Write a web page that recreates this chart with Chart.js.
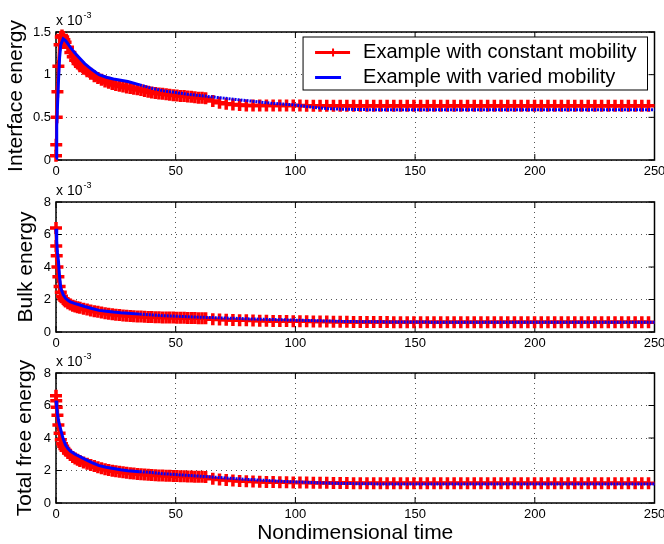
<!DOCTYPE html>
<html lang="en">
<head>
<meta charset="UTF-8">
<title>Free energy vs nondimensional time</title>
<script src="https://cdn.jsdelivr.net/npm/chart.js"></script>
<style>
  body { margin: 0; background: #fff; }
  .panel { position: absolute; left: 0; width: 664px; }
</style>
</head>
<body>
<div class="panel" style="top:0;height:180px"><canvas id="interfaceChart" width="664" height="180"></canvas></div>
<div class="panel" style="top:180px;height:172px"><canvas id="bulkChart" width="664" height="172"></canvas></div>
<div class="panel" style="top:352px;height:192px"><canvas id="totalChart" width="664" height="192"></canvas></div>

<script>
// labels
const seriesLabels = ["Example with constant mobility", "Example with varied mobility"];
const yTitles = ["Interface energy", "Bulk energy", "Total free energy"];
const xTitle = "Nondimensional time";
const scaleBase = "x 10";
const scaleExp = "-3";

// tick labels
const xTicks = [0, 50, 100, 150, 200, 250];
const interfaceTicks = [0, 0.5, 1, 1.5];
const bulkTicks = [0, 2, 4, 6, 8];
const totalTicks = [0, 2, 4, 6, 8];

// time samples, constant mobility run (dense up to ~63, then sparse)
const redTime = [
  0, 0.1, 0.3, 0.6, 1, 1.5, 2, 2.5, 3, 3.5, 4, 5, 6, 7, 8, 9, 10,
  11.5, 13, 14.5, 16, 17.5, 19, 20.5, 22, 23.5, 25, 26.5, 28, 29.5, 31, 32.5, 34, 35.5,
  37, 38.5, 40, 41.5, 43, 44.5, 46, 47.5, 49, 50.5, 52, 53.5, 55, 56.5, 58, 59.5, 61, 62.5,
  65.5, 68.3, 71.1, 73.9, 76.7, 79.5, 82.3, 85.1, 87.9, 90.7,
  93.5, 96.3, 99.1, 101.9, 104.7, 107.5, 110.3, 113.1, 115.9, 118.7,
  121.5, 124.3, 127.1, 129.9, 132.7, 135.5, 138.3, 141.1, 143.9, 146.7,
  149.5, 152.3, 155.1, 157.9, 160.7, 163.5, 166.3, 169.1, 171.9, 174.7,
  177.5, 180.3, 183.1, 185.9, 188.7, 191.5, 194.3, 197.1, 199.9, 202.7,
  205.5, 208.3, 211.1, 213.9, 216.7, 219.5, 222.3, 225.1, 227.9, 230.7,
  233.5, 236.3, 239.1, 241.9, 244.7, 247.5
];

// time samples, varied mobility run
const blueTime = [
  0, 0.3, 0.6, 1, 1.5, 2, 3, 4, 5, 6, 8, 10, 12, 15, 18, 21, 24, 27, 30, 35,
  40, 45, 50, 55, 60, 65, 70, 75, 80, 85, 90, 95, 100, 105, 110, 115, 120,
  130, 140, 150, 175, 200, 225, 250
];

// values in units of 1e-3
const interfaceRed = [
  0.05, 0.18, 0.5, 0.8, 1.1, 1.35, 1.44, 1.46, 1.44, 1.41, 1.38, 1.32, 1.26, 1.21, 1.17, 1.13, 1.10,
  1.07, 1.04, 1.01, 0.98, 0.96, 0.94, 0.92, 0.905, 0.89, 0.88, 0.87, 0.86, 0.85, 0.845, 0.835, 0.83, 0.82,
  0.81, 0.80, 0.79, 0.785, 0.78, 0.775, 0.77, 0.765, 0.76, 0.755, 0.75, 0.75, 0.745, 0.74, 0.735, 0.73, 0.73, 0.725,
  0.69, 0.67, 0.66, 0.65, 0.645, 0.64, 0.64, 0.64, 0.64, 0.64,
  0.64, 0.64, 0.64, 0.64, 0.635, 0.635, 0.635, 0.635, 0.635, 0.635,
  0.635, 0.635, 0.635, 0.635, 0.635, 0.635, 0.635, 0.635, 0.635, 0.635,
  0.635, 0.635, 0.635, 0.635, 0.635, 0.635, 0.635, 0.635, 0.635, 0.635,
  0.635, 0.635, 0.635, 0.635, 0.635, 0.635, 0.635, 0.635, 0.635, 0.635,
  0.635, 0.635, 0.635, 0.635, 0.635, 0.635, 0.635, 0.635, 0.635, 0.635,
  0.635, 0.635, 0.635, 0.635, 0.635, 0.635
];
const interfaceBlue = [
  0.02, 0.4, 0.62, 0.9, 1.2, 1.35, 1.42, 1.40, 1.36, 1.32, 1.25, 1.19, 1.13, 1.06, 1.0, 0.97, 0.95, 0.935, 0.92, 0.88,
  0.84, 0.81, 0.79, 0.77, 0.755, 0.74, 0.725, 0.71, 0.695, 0.68, 0.665, 0.655, 0.645, 0.625, 0.61, 0.6, 0.595,
  0.59, 0.59, 0.59, 0.59, 0.59, 0.59, 0.59
];

const bulkRed = [
  6.4, 5.3, 4.7, 4.0, 3.4, 2.8, 2.45, 2.2, 2.05, 1.95, 1.87, 1.77, 1.69, 1.62, 1.57, 1.53, 1.49,
  1.43, 1.38, 1.33, 1.28, 1.24, 1.2, 1.16, 1.12, 1.09, 1.06, 1.04, 1.02, 1.0, 0.98, 0.97, 0.96, 0.95,
  0.94, 0.93, 0.92, 0.915, 0.91, 0.9, 0.895, 0.89, 0.885, 0.88, 0.875, 0.87, 0.865, 0.86, 0.855, 0.85, 0.845, 0.84,
  0.79, 0.77, 0.75, 0.74, 0.73, 0.72, 0.71, 0.7, 0.69, 0.68,
  0.675, 0.67, 0.665, 0.66, 0.655, 0.65, 0.645, 0.64, 0.635, 0.63,
  0.625, 0.62, 0.615, 0.615, 0.61, 0.61, 0.61, 0.605, 0.605, 0.6,
  0.6, 0.6, 0.6, 0.6, 0.6, 0.6, 0.6, 0.6, 0.6, 0.6,
  0.6, 0.6, 0.6, 0.6, 0.6, 0.6, 0.6, 0.6, 0.6, 0.6,
  0.6, 0.6, 0.6, 0.6, 0.6, 0.6, 0.6, 0.6, 0.6, 0.6,
  0.6, 0.6, 0.6, 0.6, 0.6, 0.6
];
const bulkBlue = [
  6.35, 5.6, 4.9, 4.4, 3.4, 2.7, 2.3, 2.07, 1.95, 1.85, 1.75, 1.66, 1.57, 1.45, 1.33, 1.28, 1.23, 1.19, 1.16, 1.1,
  1.05, 1.0, 0.97, 0.94, 0.91, 0.89, 0.86, 0.84, 0.81, 0.79, 0.77, 0.75, 0.73, 0.71, 0.69, 0.67, 0.65,
  0.63, 0.62, 0.61, 0.6, 0.6, 0.6, 0.6
];

const totalRed = [
  6.6, 6.3, 5.9, 5.4, 4.8, 4.3, 3.9, 3.65, 3.5, 3.35, 3.25, 3.08, 2.95, 2.83, 2.74, 2.66, 2.59,
  2.5, 2.42, 2.34, 2.27, 2.2, 2.14, 2.08, 2.03, 1.99, 1.95, 1.92, 1.89, 1.86, 1.83, 1.81, 1.79, 1.77,
  1.75, 1.74, 1.72, 1.71, 1.7, 1.69, 1.68, 1.67, 1.665, 1.66, 1.65, 1.64, 1.635, 1.63, 1.62, 1.615, 1.61, 1.6,
  1.5, 1.45, 1.41, 1.38, 1.36, 1.34, 1.32, 1.31, 1.3, 1.29,
  1.28, 1.27, 1.265, 1.26, 1.255, 1.25, 1.245, 1.24, 1.235, 1.23,
  1.225, 1.22, 1.22, 1.22, 1.22, 1.22, 1.22, 1.22, 1.22, 1.22,
  1.22, 1.22, 1.22, 1.22, 1.22, 1.22, 1.22, 1.22, 1.22, 1.22,
  1.22, 1.22, 1.22, 1.22, 1.22, 1.22, 1.22, 1.22, 1.22, 1.22,
  1.22, 1.22, 1.22, 1.22, 1.22, 1.22, 1.22, 1.22, 1.22, 1.22,
  1.22, 1.22, 1.22, 1.22, 1.22, 1.22
];
const totalBlue = [
  6.3, 5.9, 5.5, 5.1, 4.8, 4.5, 3.95, 3.57, 3.35, 3.2, 3.0, 2.85, 2.7, 2.48, 2.3, 2.2, 2.12, 2.05, 1.99, 1.93,
  1.87, 1.8, 1.75, 1.7, 1.65, 1.6, 1.55, 1.5, 1.45, 1.41, 1.37, 1.33, 1.3, 1.27, 1.24, 1.22, 1.2,
  1.18, 1.17, 1.17, 1.17, 1.17, 1.17, 1.17
];

const RED = "#ff0000";
const BLUE = "#0000ff";
const FONT = '"Liberation Sans", Arial, Helvetica, sans-serif';
Chart.defaults.font.family = FONT;
Chart.defaults.color = "#000";

function strokeLine(ctx, x1, y1, x2, y2) {
    ctx.beginPath();
    ctx.moveTo(x1, y1);
    ctx.lineTo(x2, y2);
    ctx.stroke();
}

// axes box, inward tick marks and the "x 10^-3" note
const frame = {
    id: "frame",
    beforeDatasetsDraw(chart) {
        const { ctx, chartArea: a, scales: { x, y } } = chart;
        ctx.save();
        ctx.strokeStyle = "#000";
        ctx.lineWidth = 1.5;
        ctx.strokeRect(a.left, a.top, a.width, a.height);
        ctx.lineWidth = 1;
        x.ticks.forEach(t => {
            const px = x.getPixelForValue(t.value);
            strokeLine(ctx, px, a.bottom, px, a.bottom - 6);
            strokeLine(ctx, px, a.top, px, a.top + 6);
        });
        y.ticks.forEach(t => {
            const py = y.getPixelForValue(t.value);
            strokeLine(ctx, a.left, py, a.left + 6, py);
            strokeLine(ctx, a.right, py, a.right - 6, py);
        });
        ctx.fillStyle = "#000";
        ctx.textBaseline = "alphabetic";
        ctx.textAlign = "left";
        ctx.font = "14px " + FONT;
        ctx.fillText(scaleBase, a.left, a.top - 7);
        const w = ctx.measureText(scaleBase).width;
        ctx.font = "9px " + FONT;
        ctx.fillText(scaleExp, a.left + w + 1, a.top - 14);
        ctx.restore();
    }
};

// legend drawn inside the top plot
const legendBox = {
    id: "legendBox",
    afterDraw(chart) {
        const { ctx, chartArea: a } = chart;
        const sets = chart.data.datasets;
        ctx.save();
        ctx.font = "20px " + FONT;
        const textW = Math.max(...sets.map(d => ctx.measureText(d.label).width));
        const w = 60 + textW + 11, h = 53;
        const left = a.right - 7 - w, top = a.top + 5;
        ctx.fillStyle = "#fff";
        ctx.fillRect(left, top, w, h);
        ctx.strokeStyle = "#000";
        ctx.lineWidth = 1;
        ctx.strokeRect(left, top, w, h);
        sets.forEach((d, i) => {
            const cy = top + 15.5 + i * 25;
            ctx.strokeStyle = d.borderColor;
            ctx.lineWidth = 3;
            strokeLine(ctx, left + 12, cy, left + (d.pointStyle === "cross" ? 47 : 38), cy);
            if (d.pointStyle === "cross") {
                ctx.lineWidth = 2;
                strokeLine(ctx, left + 30, cy - 4, left + 30, cy + 4);
            }
            ctx.fillStyle = "#000";
            ctx.textBaseline = "middle";
            ctx.fillText(d.label, left + 60, cy);
        });
        ctx.restore();
    }
};

function makePanel(id, cfg) {
    const plugins = [frame];
    if (cfg.legend) plugins.push(legendBox);
    return new Chart(document.getElementById(id), {
        type: "line",
        data: {
            datasets: [
                {
                    label: seriesLabels[0],
                    data: redTime.map((t, i) => ({ x: t, y: cfg.red[i] })),
                    borderColor: RED,
                    backgroundColor: RED,
                    borderWidth: 3,
                    pointStyle: "cross",
                    pointRadius: 6,
                    pointBorderWidth: 3.5,
                    pointBorderColor: RED,
                    clip: false,
                    order: 1
                },
                {
                    label: seriesLabels[1],
                    data: blueTime.map((t, i) => ({ x: t, y: cfg.blue[i] })),
                    borderColor: BLUE,
                    backgroundColor: BLUE,
                    borderWidth: 3,
                    pointRadius: 0,
                    clip: false,
                    order: 0,
                    segment: { borderDash: c => c.p0.parsed.x >= 32 ? [2, 1] : [] }
                }
            ]
        },
        options: {
            responsive: false,
            animation: false,
            events: [],
            layout: { padding: { top: cfg.top, right: 9, left: 0, bottom: 0 } },
            plugins: { legend: { display: false }, tooltip: { enabled: false } },
            scales: {
                x: {
                    type: "linear",
                    min: 0,
                    max: 250,
                    afterBuildTicks: s => { s.ticks = xTicks.map(v => ({ value: v })); },
                    afterFit: s => { s.height = cfg.xHeight; s.paddingLeft = 0; s.paddingRight = 0; },
                    grid: { color: "#555", lineWidth: 1, drawTicks: false },
                    border: { display: false, dash: [1, 4] },
                    ticks: {
                        font: { size: 13 }, color: "#000", padding: 4, maxRotation: 0, autoSkip: false,
                        callback: v => String(v)
                    },
                    title: {
                        display: !!cfg.xTitle,
                        text: xTitle,
                        color: "#000",
                        font: { size: 21, lineHeight: 1 },
                        padding: { top: 0, bottom: 0 }
                    }
                },
                y: {
                    min: 0,
                    max: cfg.max,
                    afterBuildTicks: s => { s.ticks = cfg.ticks.map(v => ({ value: v })); },
                    afterFit: s => { s.width = 56; s.paddingTop = 0; s.paddingBottom = 0; },
                    grid: { color: "#555", lineWidth: 1, drawTicks: false },
                    border: { display: false, dash: [1, 4] },
                    ticks: { font: { size: 13 }, color: "#000", padding: 5, callback: v => String(v) },
                    title: {
                        display: true,
                        text: cfg.title,
                        color: "#000",
                        font: { size: 21, lineHeight: 1 },
                        padding: { top: cfg.titlePad, bottom: 0 }
                    }
                }
            }
        },
        plugins: plugins
    });
}

makePanel("interfaceChart", {
    red: interfaceRed, blue: interfaceBlue, max: 1.5, ticks: interfaceTicks,
    title: yTitles[0], titlePad: 6, top: 32, xHeight: 20, legend: true
});
makePanel("bulkChart", {
    red: bulkRed, blue: bulkBlue, max: 8, ticks: bulkTicks,
    title: yTitles[1], titlePad: 15.5, top: 22, xHeight: 20
});
makePanel("totalChart", {
    red: totalRed, blue: totalBlue, max: 8, ticks: totalTicks,
    title: yTitles[2], titlePad: 15, top: 21, xHeight: 41, xTitle: true
});
</script>
</body>
</html>
